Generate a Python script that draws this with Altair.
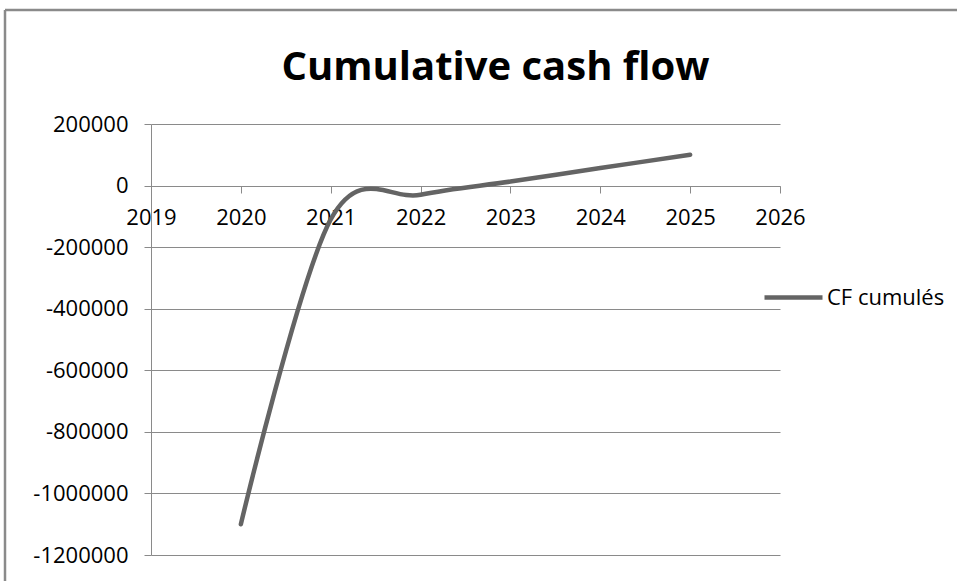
import altair as alt
import pandas as pd

years = [2020, 2021, 2022, 2023, 2024, 2025]
cf_cumules = [-1100000, -110000, -30000, 13000, 57000, 100000]
series_name = "CF cumulés"
x_ticks = [2019, 2020, 2021, 2022, 2023, 2024, 2025, 2026]
y_ticks = [200000, 0, -200000, -400000, -600000, -800000, -1000000, -1200000]

df = pd.DataFrame({"year": years, "cf": cf_cumules, "series": [series_name] * len(years)})

W, H = 629, 431
FONT = "Open Sans"
GRID = "#8a8a8a"

base = alt.Chart(df)

line = base.mark_line(interpolate="cardinal", strokeWidth=4.5, strokeCap="round").encode(
    x=alt.X("year:Q",
            scale=alt.Scale(domain=[2019, 2026], nice=False, zero=False),
            axis=alt.Axis(values=x_ticks, labelExpr="toString(datum.value)", title=None,
                          grid=False, offset=-369, domainColor=GRID, tickColor=GRID,
                          tickSize=7, labelPadding=14, labelFontSize=22, labelFont=FONT,
                          labelColor="#000000", labelFlush=False, labelOverlap=False)),
    y=alt.Y("cf:Q",
            scale=alt.Scale(domain=[-1200000, 200000], nice=False),
            axis=alt.Axis(values=y_ticks, labelExpr="toString(datum.value)", title=None,
                          grid=True, gridColor=GRID, gridWidth=1, domainColor=GRID,
                          tickColor=GRID, tickSize=7, labelPadding=16, labelFontSize=22,
                          labelFont=FONT, labelColor="#000000")),
    color=alt.Color("series:N", scale=alt.Scale(range=["#646464"]),
                    legend=alt.Legend(title=None, orient="none", legendX=611, legendY=142,
                                      symbolType="stroke", symbolSize=3364,
                                      symbolStrokeWidth=4.5, labelFontSize=22,
                                      labelFont=FONT, labelColor="#000000", labelOffset=2)),
)

border = alt.Chart(alt.Data(values=[{}])).mark_rule(color="#8a8a8a", strokeWidth=2.5).encode(
    x=alt.value(-146), y=alt.value(-114), y2=alt.value(H + 30)
)
border_top = alt.Chart(alt.Data(values=[{}])).mark_rule(color="#8a8a8a", strokeWidth=2.5).encode(
    x=alt.value(-146), x2=alt.value(W + 200), y=alt.value(-114)
)

chart = alt.layer(border, border_top, line).properties(
    width=W, height=H,
    title=alt.TitleParams("Cumulative cash flow", font=FONT, fontSize=40, fontWeight="bold",
                          color="#000000", anchor="middle", dx=30, offset=-111,
                          frame="group", baseline="alphabetic"),
    autosize=alt.AutoSizeParams(type="none"),
    padding={"left": 151, "top": 124, "right": 177, "bottom": 26},
    background="white",
).configure_view(stroke=None)

chart.save("out.html", embed_options={"renderer": "svg", "actions": False})
